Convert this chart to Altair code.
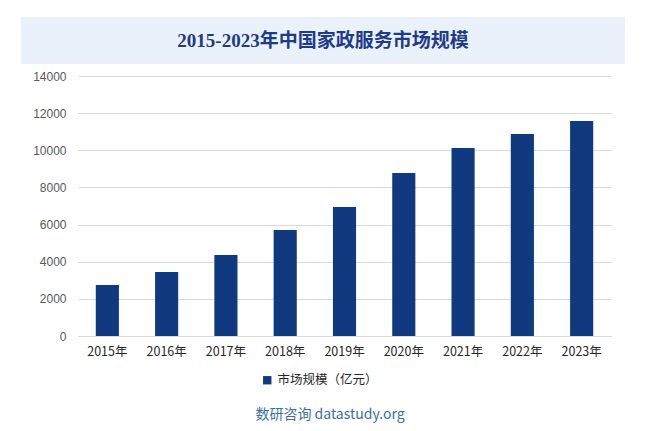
import altair as alt
import pandas as pd

years = ["2015年", "2016年", "2017年", "2018年", "2019年", "2020年", "2021年", "2022年", "2023年"]
values = [2750, 3450, 4360, 5710, 6950, 8780, 10120, 10880, 11580]
series_name = "市场规模（亿元）"
title_text = "2015-2023年中国家政服务市场规模"
footer_text = "数研咨询 datastudy.org"

df = pd.DataFrame({"year": years, "value": values, "series": [series_name] * len(years)})

W, H = 533, 260

bars = alt.Chart(df).mark_bar(color="#10397F").encode(
    x=alt.X("year:N", sort=years, title=None,
            scale=alt.Scale(paddingInner=0.61, paddingOuter=0.3),
            axis=alt.Axis(labelAngle=0, labelFontSize=12.5, labelColor="#262626",
                          labelFont="Noto Sans CJK SC", ticks=False, domain=True,
                          domainColor="#D9D9D9", labelPadding=9)),
    y=alt.Y("value:Q", title=None,
            scale=alt.Scale(domain=[0, 14000]),
            axis=alt.Axis(values=list(range(0, 14001, 2000)), format="d", labelFontSize=12,
                          labelColor="#595959", labelFont="Liberation Sans, Arial", ticks=False,
                          domain=False, gridColor="#D9D9D9", labelPadding=12)),
    color=alt.Color("series:N", scale=alt.Scale(range=["#10397F"]),
                    legend=alt.Legend(title=None, orient="none", legendX=183, legendY=298,
                                      symbolType="square", symbolSize=70,
                                      labelFontSize=12.5, labelColor="#262626",
                                      labelFont="Noto Sans CJK SC")),
)

one = alt.Data(values=[{"a": 1}])

title_box = alt.Chart(one).mark_rect(color="#EAF1FB").encode(
    x=alt.value(-57), x2=alt.value(547), y=alt.value(-59), y2=alt.value(-12)
)
title = alt.Chart(one).mark_text(
    text=title_text, fontSize=19, fontWeight="bold", color="#1E3A8A",
    font="Liberation Serif, Noto Sans CJK SC", align="center", baseline="middle"
).encode(x=alt.value(245), y=alt.value(-35))

footer = alt.Chart(one).mark_text(
    text=footer_text, fontSize=14, color="#3B6EA8",
    font="Noto Sans CJK SC, Arial", align="center", baseline="middle"
).encode(x=alt.value(252), y=alt.value(339))

chart = alt.layer(title_box, title, bars, footer).properties(
    width=W, height=H,
    autosize=alt.AutoSizeParams(type="none"),
    padding={"left": 70, "top": 68, "right": 29, "bottom": 87},
    background="white",
).configure_view(stroke=None)

chart.save("out.html", embed_options={"renderer": "svg", "actions": False})
